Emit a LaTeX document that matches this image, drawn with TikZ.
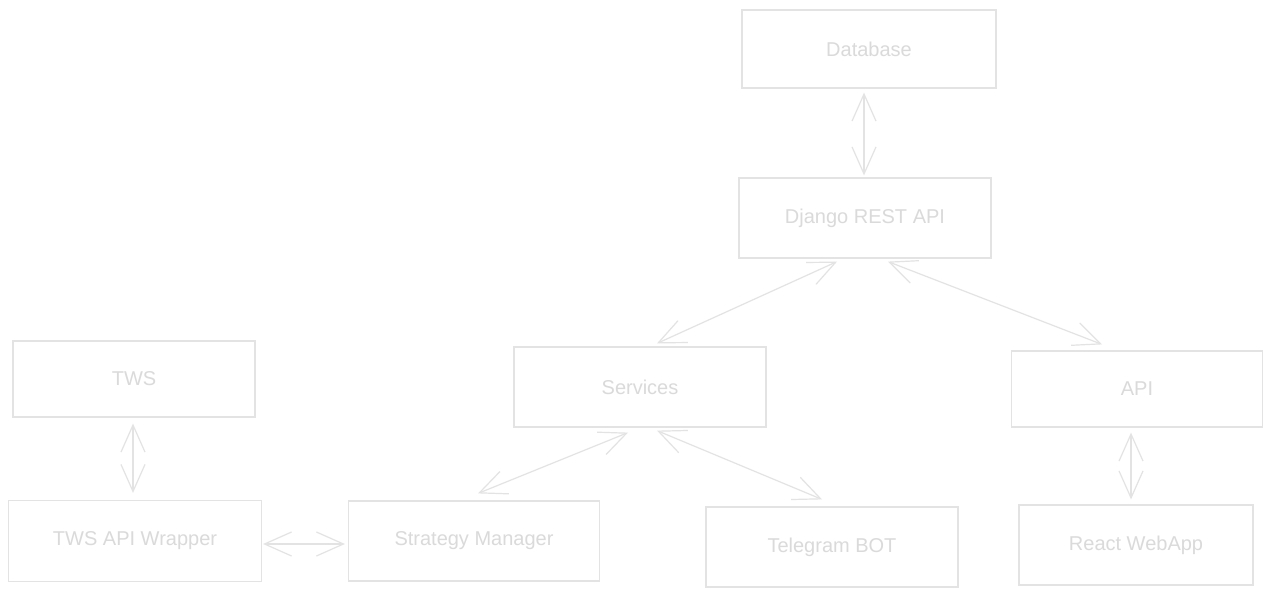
\documentclass[tikz,border=0pt]{standalone}
\usepackage{fontspec}
\setmainfont{Liberation Sans}
\usetikzlibrary{arrows.meta}
\definecolor{ln}{HTML}{E3E3E3}
\definecolor{tx}{HTML}{DADADA}
\tikzset{
  blk/.style={draw=ln, line width=1.2pt, fill=white, inner sep=0pt, text=tx, font=\fontsize{20}{23}\selectfont},
  link/.style={draw=ln, line width=1.2pt, {Straight Barb[length=27pt,width=24pt,line width=1.2pt]}-{Straight Barb[length=27pt,width=24pt,line width=1.2pt]}}
}
\begin{document}
\begin{tikzpicture}[x=1pt,y=-1pt]
\fill[white] (0,0) rectangle (1273,597);
\useasboundingbox (0,0) rectangle (1273,597);
\node[blk, minimum width=254pt, minimum height=78pt] (db) at (869,49) {Database};
\node[blk, minimum width=252pt, minimum height=80pt] (dj) at (865,218) {Django REST API};
\node[blk, minimum width=242pt, minimum height=76pt] (tws) at (134,379) {TWS};
\node[blk, minimum width=252pt, minimum height=80pt] (svc) at (640,387) {Services};
\node[blk, minimum width=251pt, minimum height=76pt] (api) at (1137,389) {API};
\node[blk, minimum width=253pt, minimum height=81pt] (wrap) at (135,541) {TWS API Wrapper};
\node[blk, minimum width=251pt, minimum height=80pt] (strat) at (474,541) {Strategy Manager};
\node[blk, minimum width=252pt, minimum height=80pt] (tg) at (832,547) {Telegram BOT};
\node[blk, minimum width=234pt, minimum height=80pt] (react) at (1136,545) {React WebApp};

\draw[link] ([xshift=-5pt,yshift=-4pt]db.south) -- ([xshift=-1pt,yshift=2pt]dj.north);
\draw[link] ([xshift=-28pt,yshift=-3pt]dj.south) -- ([xshift=17pt,yshift=3pt]svc.north);
\draw[link] ([xshift=23pt,yshift=-3pt]dj.south) -- ([xshift=-35pt,yshift=6pt]api.north);
\draw[link] ([xshift=-12pt,yshift=-5pt]svc.south) -- ([xshift=4pt,yshift=7pt]strat.north);
\draw[link] ([xshift=17pt,yshift=-3pt]svc.south) -- ([xshift=-10pt,yshift=7pt]tg.north);
\draw[link] ([xshift=-1pt,yshift=-6pt]tws.south) -- ([xshift=-2pt,yshift=7pt]wrap.north);
\draw[link] ([xshift=1pt,yshift=-3pt]wrap.east) -- ([xshift=-3pt,yshift=-3pt]strat.west);
\draw[link] ([xshift=-6pt,yshift=-5pt]api.south) -- ([xshift=-5pt,yshift=5pt]react.north);
\end{tikzpicture}
\end{document}
